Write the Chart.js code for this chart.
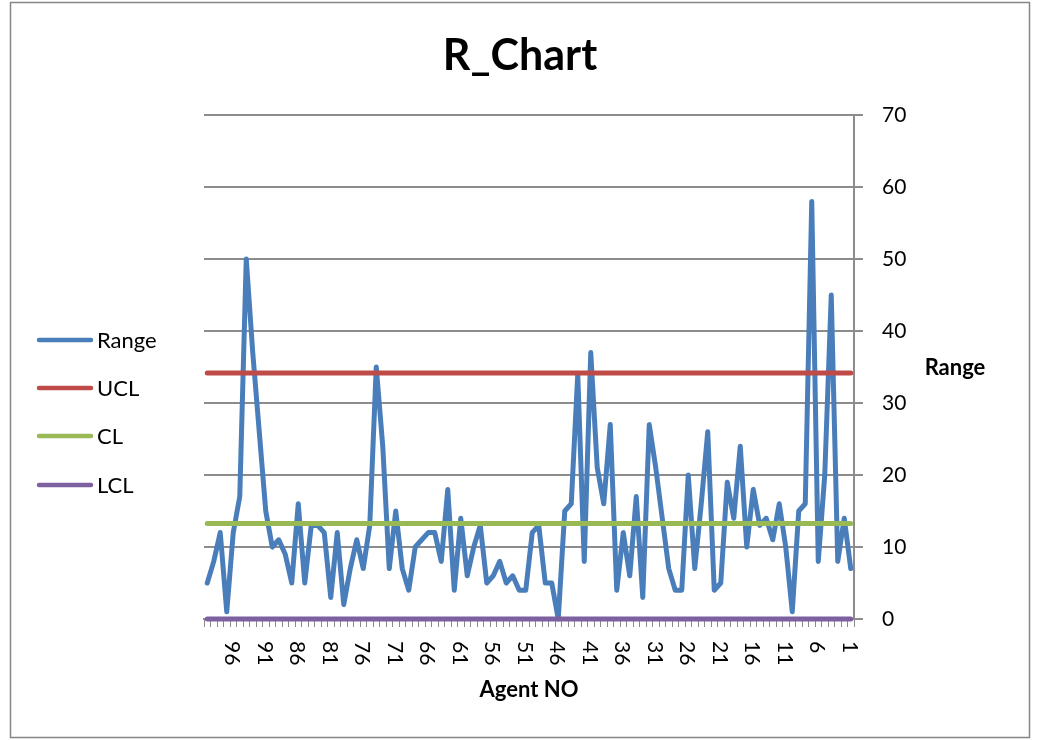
<!DOCTYPE html>
<html>
<head>
<meta charset="utf-8">
<title>R_Chart</title>
<script src="https://cdn.jsdelivr.net/npm/chart.js@4.4.1/dist/chart.umd.min.js"></script>
<style>
  html, body { margin: 0; padding: 0; background: #ffffff; }
  #wrap { width: 1040px; height: 740px; }
  canvas { display: block; }
</style>
</head>
<body>
<div id="wrap"><canvas id="rchart" width="1040" height="740"></canvas></div>
<script>
// Agent numbers 1..100 (drawn right-to-left on a reversed axis)
const agentNos = Array.from({ length: 100 }, (_, i) => i + 1);

// Sample range per agent, agent 1 first
const rangeValues = [
  7, 14, 8, 45, 20, 8, 58, 16, 15, 1,
  10, 16, 11, 14, 13, 18, 10, 24, 14, 19,
  5, 4, 26, 16, 7, 20, 4, 4, 7, 14,
  21, 27, 3, 17, 6, 12, 4, 27, 16, 21,
  37, 8, 34, 16, 15, 0, 5, 5, 13, 12,
  4, 4, 6, 5, 8, 6, 5, 13, 10, 6,
  14, 4, 18, 8, 12, 12, 11, 10, 4, 7,
  15, 7, 24, 35, 13, 7, 11, 7, 2, 12,
  3, 12, 13, 13, 5, 16, 5, 9, 11, 10,
  15, 26, 37, 50, 17, 12, 1, 12, 8, 5
];

// Control limits
const uclValue = 34.16;
const clValue = 13.27;
const lclValue = 0;
const uclValues = agentNos.map(() => uclValue);
const clValues = agentNos.map(() => clValue);
const lclValues = agentNos.map(() => lclValue);

// Axis labels
const xTickLabels = ['96', '91', '86', '81', '76', '71', '66', '61', '56', '51',
                     '46', '41', '36', '31', '26', '21', '16', '11', '6', '1'];
const yTickValues = [0, 10, 20, 30, 40, 50, 60, 70];

const FONT = 'Lato, "Open Sans", "DejaVu Sans", sans-serif';

// Frame, title, legend, rotated agent labels and the right-hand axis caption
const decor = {
  id: 'decor',
  beforeDraw(chart) {
    const ctx = chart.ctx;
    ctx.save();
    ctx.fillStyle = '#ffffff';
    ctx.fillRect(0, 0, chart.width, chart.height);
    ctx.strokeStyle = '#868686';
    ctx.lineWidth = 1.5;
    ctx.strokeRect(10.5, 2.5, 1019, 735);
    ctx.restore();
  },
  afterDraw(chart) {
    const ctx = chart.ctx;
    const xs = chart.scales.x;
    ctx.save();
    ctx.fillStyle = '#000000';

    ctx.font = `bold 43px ${FONT}`;
    ctx.textAlign = 'center';
    ctx.textBaseline = 'alphabetic';
    ctx.fillText('R_Chart', 520, 70);

    ctx.font = `bold 22px ${FONT}`;
    ctx.textBaseline = 'middle';
    ctx.fillText('Range', 955, 368);

    ctx.font = `21px ${FONT}`;
    ctx.textAlign = 'left';
    xTickLabels.forEach(lbl => {
      const idx = agentNos.indexOf(Number(lbl));
      const px = xs.getPixelForValue(idx);
      ctx.save();
      ctx.translate(px, 641);
      ctx.rotate(Math.PI / 2);
      ctx.fillText(lbl, 0, 1);
      ctx.restore();
    });

    const legendY = [340, 388, 436, 485];
    ctx.font = `22px ${FONT}`;
    chart.data.datasets.forEach((ds, i) => {
      const y = legendY[i];
      ctx.strokeStyle = ds.borderColor;
      ctx.lineWidth = 4.5;
      ctx.lineCap = 'round';
      ctx.beginPath();
      ctx.moveTo(39, y);
      ctx.lineTo(91, y);
      ctx.stroke();
      ctx.fillText(ds.label, 97, y + 1);
    });
    ctx.restore();
  }
};

const lineStyle = {
  borderWidth: 5,
  pointRadius: 0,
  borderCapStyle: 'round',
  borderJoinStyle: 'round',
  tension: 0,
  fill: false,
  clip: false
};

new Chart(document.getElementById('rchart'), {
  type: 'line',
  data: {
    labels: agentNos,
    datasets: [
      { label: 'Range', data: rangeValues, borderColor: '#4A7EBB', order: 3, ...lineStyle },
      { label: 'UCL', data: uclValues, borderColor: '#BE4B48', order: 2, ...lineStyle },
      { label: 'CL', data: clValues, borderColor: '#98B954', order: 1, ...lineStyle },
      { label: 'LCL', data: lclValues, borderColor: '#7D60A0', order: 0, ...lineStyle }
    ]
  },
  options: {
    responsive: false,
    animation: false,
    devicePixelRatio: 1,
    layout: { padding: { left: 204, top: 115, right: 0, bottom: 0 } },
    plugins: {
      legend: { display: false },
      title: { display: false },
      tooltip: { enabled: false }
    },
    scales: {
      x: {
        type: 'category',
        reverse: true,
        offset: true,
        grid: {
          offset: true,
          drawOnChartArea: false,
          drawTicks: true,
          tickLength: 8,
          color: '#8c8c8c',
          lineWidth: 1
        },
        border: { display: true, color: '#8c8c8c', width: 2 },
        ticks: { display: false },
        title: {
          display: true,
          text: 'Agent NO',
          color: '#000000',
          font: { family: FONT, size: 22, weight: 'bold' },
          padding: { top: 0, bottom: 37 }
        },
        afterFit(scale) { scale.height = 121; }
      },
      y: {
        position: 'right',
        min: 0,
        max: 70,
        afterBuildTicks(scale) { scale.ticks = yTickValues.map(v => ({ value: v })); },
        ticks: {
          padding: 19,
          color: '#000000',
          font: { family: FONT, size: 21 }
        },
        grid: { color: '#8c8c8c', lineWidth: 2, tickLength: 9 },
        border: { display: true, color: '#8c8c8c', width: 2 },
        afterFit(scale) { scale.width = 186; }
      }
    }
  },
  plugins: [decor]
});
</script>
</body>
</html>
